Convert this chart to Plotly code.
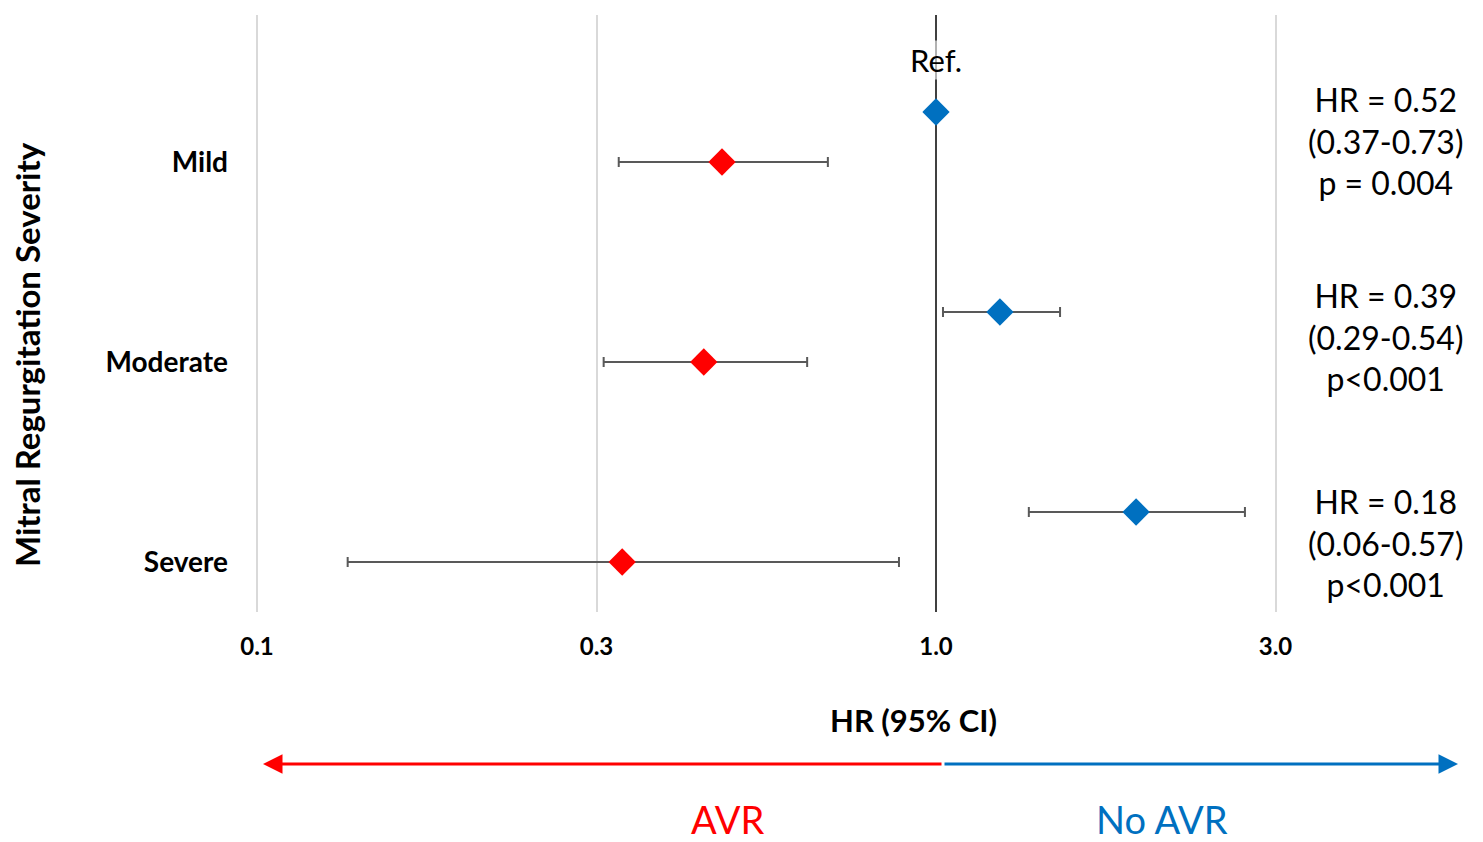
import plotly.graph_objects as go
import math

# ---- data ----
groups = ["Mild", "Moderate", "Severe"]
group_y = [3, 2, 1]
ref_offset = 0.25

avr_hr = [0.484, 0.455, 0.345]
avr_lo = [0.341, 0.324, 0.136]
avr_hi = [0.693, 0.646, 0.882]

noavr_hr = [1.0, 1.242, 1.971]
noavr_lo = [None, 1.024, 1.370]
noavr_hi = [None, 1.523, 2.851]

hr_labels = ["HR = 0.52", "HR = 0.39", "HR = 0.18"]
ci_labels = ["(0.37-0.73)", "(0.29-0.54)", "(0.06-0.57)"]
p_labels = ["p = 0.004", "p<0.001", "p<0.001"]

tick_vals = [0.1, 10 ** -0.5, 1.0, 10 ** 0.5]
tick_text = ["0.1", "0.3", "1.0", "3.0"]

RED = "#FF0000"
BLUE = "#0070C0"
ERR = "#595959"
FONT = "Lato"

# page offset (browser body margin)
OFF = 8
W, H = 1483 - OFF, 842 - OFF
DEC = 679.0                      # pixels per decade
LW, RW = 254, 1460               # plot left/right in window px
TW, BW = 15, 612                 # plot top/bottom in window px
PW = RW - LW
PH = BW - TW
L = LW - OFF
T = TW - OFF
R = W - L - PW
B = H - T - PH

y_lo = 0.75
y_hi = y_lo + PH / 200.0


def px(xw):
    return (xw - LW) / PW


def py(yw):
    return (BW - yw) / PH


fig = go.Figure()

# reference line at HR = 1 (drawn first so markers sit on top)
fig.add_trace(go.Scatter(
    x=[noavr_hr[0], noavr_hr[0]], y=[y_lo, y_hi], mode="lines",
    line=dict(color="#404040", width=2), showlegend=False, hoverinfo="skip",
))

# No-AVR (blue) series
nb_plus = [(h - v) if h is not None else None for v, h in zip(noavr_hr, noavr_hi)]
nb_minus = [(v - l) if l is not None else None for v, l in zip(noavr_hr, noavr_lo)]
fig.add_trace(go.Scatter(
    x=noavr_hr,
    y=[g + ref_offset for g in group_y],
    mode="markers",
    marker=dict(symbol="diamond", size=21, color=BLUE),
    error_x=dict(type="data", symmetric=False,
                 array=nb_plus, arrayminus=nb_minus,
                 color=ERR, thickness=2, width=5),
    showlegend=False, cliponaxis=False,
))

# AVR (red) series
fig.add_trace(go.Scatter(
    x=avr_hr,
    y=group_y,
    mode="markers",
    marker=dict(symbol="diamond", size=21, color=RED),
    error_x=dict(type="data", symmetric=False,
                 array=[h - v for v, h in zip(avr_hr, avr_hi)],
                 arrayminus=[v - l for v, l in zip(avr_hr, avr_lo)],
                 color=ERR, thickness=2, width=5),
    showlegend=False, cliponaxis=False,
))

annotations = []
# Ref. label (annotation x on log axis is given in log10 units)
annotations.append(dict(x=math.log10(noavr_hr[0]), xref="x", y=py(60), yref="paper",
                        xanchor="center", yanchor="middle", text="Ref.",
                        showarrow=False, font=dict(family=FONT, size=31, color="black"),
                        bgcolor="rgba(255,255,255,0.6)", borderpad=0))

# right-side stats text
block_centers = [141, 337, 543]
for i in range(3):
    annotations.append(dict(
        x=px(1385), xref="paper", y=py(block_centers[i]), yref="paper",
        xanchor="center", yanchor="middle",
        text=f"{hr_labels[i]}<br>{ci_labels[i]}<br>{p_labels[i]}",
        showarrow=False, align="center",
        font=dict(family=FONT, size=32, color="black"),
    ))

# y-axis title
annotations.append(dict(x=px(27), xref="paper", y=py(355), yref="paper",
                        xanchor="center", yanchor="middle",
                        text="<b>Mitral Regurgitation Severity</b>", textangle=-90,
                        showarrow=False, font=dict(family=FONT, size=33, color="black")))
# x-axis title
annotations.append(dict(x=px(914), xref="paper", y=py(720), yref="paper",
                        xanchor="center", yanchor="middle",
                        text="<b>HR (95% CI)</b>",
                        showarrow=False, font=dict(family=FONT, size=31, color="black")))

# arrows
annotations.append(dict(x=px(263), xref="paper", y=py(764), yref="paper",
                        ax=943 - 263, ay=0, axref="pixel", ayref="pixel",
                        text="", showarrow=True, arrowhead=2, arrowsize=1.3,
                        arrowwidth=3, arrowcolor=RED))
annotations.append(dict(x=px(1458), xref="paper", y=py(764), yref="paper",
                        ax=943 - 1458, ay=0, axref="pixel", ayref="pixel",
                        text="", showarrow=True, arrowhead=2, arrowsize=1.3,
                        arrowwidth=3, arrowcolor=BLUE))

annotations.append(dict(x=px(727), xref="paper", y=py(819), yref="paper",
                        xanchor="center", yanchor="middle",
                        text="AVR", showarrow=False,
                        font=dict(family=FONT, size=38, color=RED)))
annotations.append(dict(x=px(1162), xref="paper", y=py(819), yref="paper",
                        xanchor="center", yanchor="middle",
                        text="No AVR", showarrow=False,
                        font=dict(family=FONT, size=38, color=BLUE)))

x_lo = -1.0 - (257 - LW) / DEC
x_hi = x_lo + PW / DEC

fig.update_layout(
    width=W, height=H,
    margin=dict(l=L, r=R, t=T, b=B),
    paper_bgcolor="white", plot_bgcolor="white",
    font=dict(family=FONT, color="black"),
    annotations=annotations,
    xaxis=dict(
        type="log", range=[x_lo, x_hi],
        tickvals=tick_vals, ticktext=tick_text,
        showgrid=True, gridcolor="#D9D9D9", gridwidth=2,
        zeroline=False, showline=False, ticks="",
        ticklabelstandoff=18,
        tickfont=dict(family=FONT, size=24, color="black", weight="bold"),
    ),
    yaxis=dict(
        range=[y_lo, y_hi],
        tickvals=group_y, ticktext=groups,
        showgrid=False, zeroline=False, showline=False, ticks="",
        ticklabelstandoff=25,
        tickfont=dict(family=FONT, size=28, color="black", weight="bold"),
    ),
)

fig.write_html("out.html")
